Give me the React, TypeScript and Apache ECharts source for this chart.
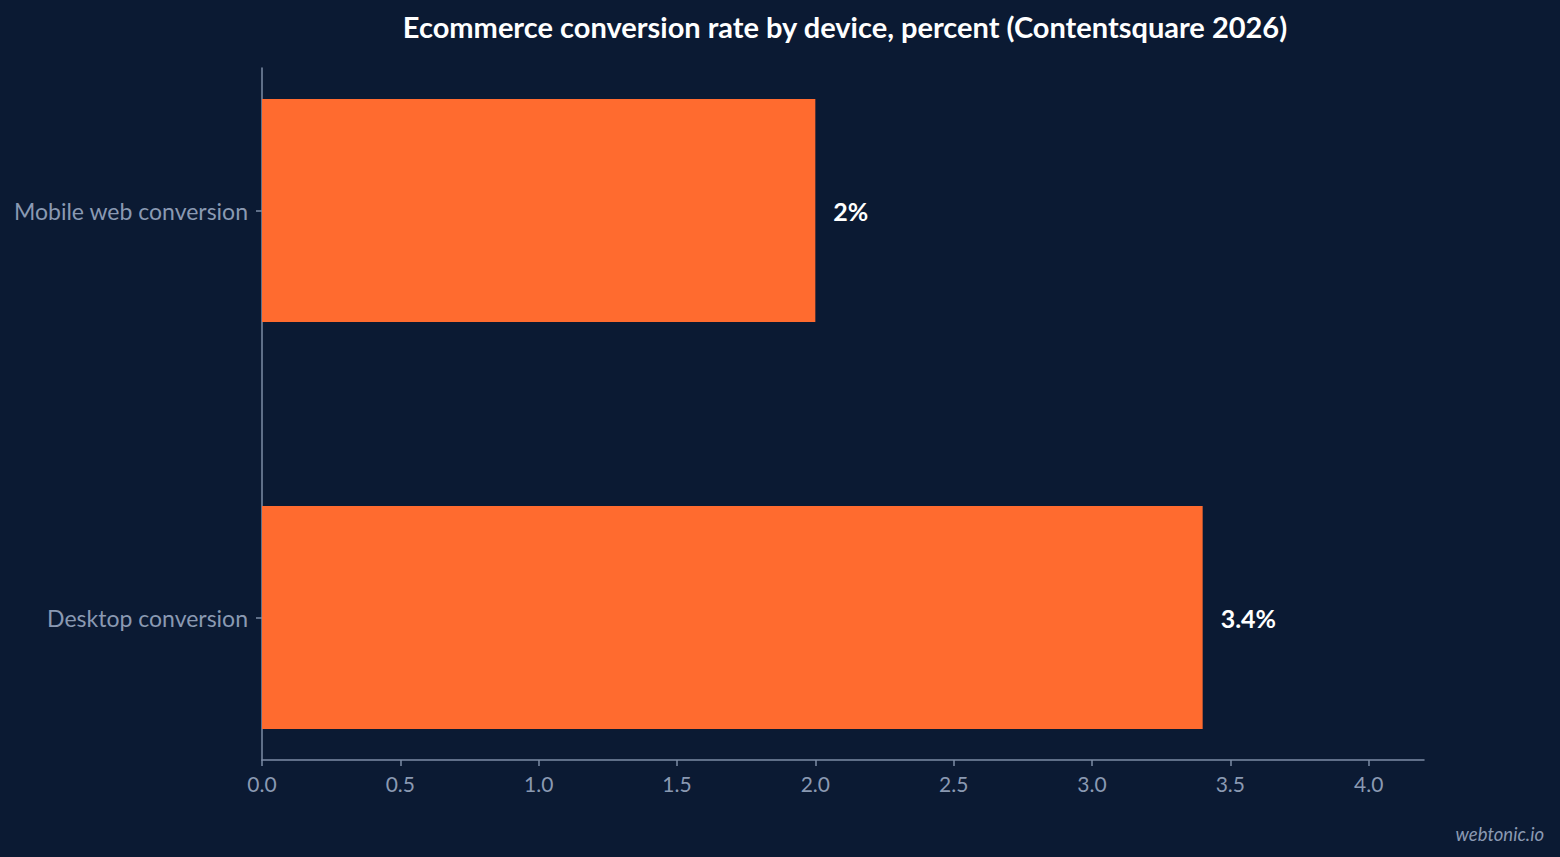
import React, { useEffect, useRef } from "react";
import * as echarts from "echarts";

const categories = ["Mobile web conversion", "Desktop conversion"];
const values = [2, 3.4];
const axisMax = 4.2;
const tickStep = 0.5;

const bg = "#0b1a33";
const barColor = "#ff6b2f";
const axisColor = "#7d8ca6";
const labelColor = "#8a99b2";
const font = "Lato";

const App: React.FC = () => {
  const chartRef = useRef<HTMLDivElement>(null);

  useEffect(() => {
    if (!chartRef.current) return;
    const chart = echarts.init(chartRef.current, null, { renderer: "svg" });

    const option: echarts.EChartsOption = {
      animation: false,
      backgroundColor: bg,
      textStyle: { fontFamily: font },
      title: {
        text: "Ecommerce conversion rate by device, percent (Contentsquare 2026)",
        left: 840,
        textAlign: "center",
        top: 7,
        textStyle: { color: "#ffffff", fontSize: 29, fontWeight: "bold", fontFamily: font },
      },
      graphic: [
        {
          type: "text",
          right: 16,
          bottom: 14,
          style: {
            text: "webtonic.io",
            fill: labelColor,
            font: `italic 18.5px ${font}`,
          },
        },
      ],
      grid: [
        // bars: categories spaced like the source (centres with margins)
        { left: 262, right: 136, top: 7, bottom: 36 },
        // visible frame: axis lines
        { left: 262, right: 136, top: 68, bottom: 97 },
      ],
      xAxis: [
        {
          gridIndex: 0,
          type: "value",
          min: 0,
          max: axisMax,
          show: false,
        },
        {
          gridIndex: 1,
          type: "value",
          min: 0,
          max: axisMax,
          interval: tickStep,
          splitLine: { show: false },
          axisLine: { show: true, lineStyle: { color: axisColor, width: 1.5 } },
          axisTick: { show: true, length: 6, lineStyle: { color: axisColor, width: 1.5 } },
          axisLabel: {
            color: labelColor,
            fontSize: 21,
            fontFamily: font,
            margin: 13,
            showMaxLabel: false,
            formatter: (v: number) => v.toFixed(1),
          },
        },
      ],
      yAxis: [
        {
          gridIndex: 0,
          type: "category",
          data: categories,
          inverse: true,
          axisLine: { show: false },
          axisTick: {
            show: true,
            alignWithLabel: true,
            length: 6,
            lineStyle: { color: axisColor, width: 1.5 },
          },
          axisLabel: { color: labelColor, fontSize: 23, fontFamily: font, margin: 14 },
        },
        {
          gridIndex: 1,
          type: "value",
          min: 0,
          max: 1,
          axisLine: { show: true, lineStyle: { color: axisColor, width: 1.5 } },
          axisTick: { show: false },
          axisLabel: { show: false },
          splitLine: { show: false },
        },
      ],
      series: [
        {
          type: "bar",
          xAxisIndex: 0,
          yAxisIndex: 0,
          data: values,
          barWidth: 223,
          itemStyle: { color: barColor },
          label: {
            show: true,
            position: "right",
            distance: 18,
            color: "#ffffff",
            fontSize: 25,
            fontWeight: "bold",
            fontFamily: font,
            formatter: (p: any) => `${p.value}%`,
          },
        },
      ],
    };

    chart.setOption(option as any);
    return () => {
      chart.dispose();
    };
  }, []);

  return (
    <div
      ref={chartRef}
      style={{ position: "fixed", left: 0, top: 0, width: 1560, height: 857 }}
    />
  );
};

export default App;
